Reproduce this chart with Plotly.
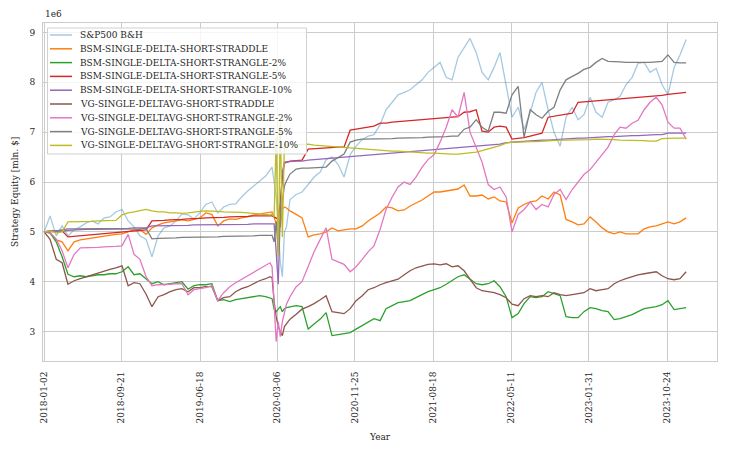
import plotly.graph_objects as go

# sample dates (in millions of $)
dates = [
    "2018-01-02", "2018-01-22", "2018-02-12", "2018-03-04", "2018-03-24", "2018-04-14", "2018-05-05", "2018-05-25", "2018-06-14", "2018-07-04",
    "2018-07-25", "2018-08-14", "2018-09-03", "2018-09-24", "2018-10-15", "2018-11-04", "2018-11-24", "2018-12-15", "2019-01-04", "2019-01-25",
    "2019-02-14", "2019-03-07", "2019-03-27", "2019-04-16", "2019-05-07", "2019-05-27", "2019-06-16", "2019-07-06", "2019-07-27", "2019-08-16",
    "2019-09-05", "2019-09-26", "2019-10-16", "2019-11-05", "2019-11-26", "2019-12-16", "2020-01-05", "2020-01-26", "2020-02-10", "2020-02-17",
    "2020-02-24", "2020-03-02", "2020-03-09", "2020-03-16", "2020-03-23", "2020-03-30", "2020-04-06", "2020-04-18", "2020-05-09", "2020-05-29",
    "2020-06-19", "2020-07-09", "2020-07-30", "2020-08-19", "2020-09-08", "2020-09-29", "2020-10-19", "2020-11-09", "2020-11-29", "2020-12-20",
    "2021-01-09", "2021-01-29", "2021-02-19", "2021-03-11", "2021-04-01", "2021-04-21", "2021-05-12", "2021-06-01", "2021-06-21", "2021-07-12",
    "2021-08-01", "2021-08-22", "2021-09-11", "2021-10-02", "2021-10-22", "2021-11-11", "2021-12-02", "2021-12-22", "2022-01-12", "2022-02-01",
    "2022-02-22", "2022-03-14", "2022-04-03", "2022-04-24", "2022-05-14", "2022-06-04", "2022-06-24", "2022-07-15", "2022-08-04", "2022-08-24",
    "2022-09-14", "2022-10-04", "2022-10-25", "2022-11-14", "2022-12-05", "2022-12-25", "2023-01-14", "2023-02-04", "2023-02-24", "2023-03-17",
    "2023-04-06", "2023-04-27", "2023-05-17", "2023-06-06", "2023-06-27", "2023-07-17", "2023-08-07", "2023-08-27", "2023-09-17", "2023-10-07",
    "2023-10-27", "2023-11-17", "2023-12-07", "2023-12-28",
]

sp500_bh = [
    5.00, 5.32, 4.92, 5.12, 4.92, 5.04, 5.10, 5.18, 5.22, 5.16,
    5.28, 5.30, 5.40, 5.45, 5.22, 5.10, 4.92, 4.85, 4.50, 4.92,
    5.08, 5.12, 5.22, 5.36, 5.34, 5.26, 5.38, 5.55, 5.60, 5.38,
    5.50, 5.55, 5.56, 5.70, 5.82, 5.92, 6.02, 6.12, 6.24, 6.30,
    6.00, 5.70, 5.10, 4.40, 4.10, 5.00, 5.10, 5.65, 5.75, 5.80,
    5.95, 6.10, 6.20, 6.45, 6.50, 6.35, 6.10, 6.55, 6.72, 6.85,
    6.92, 6.95, 7.15, 7.45, 7.60, 7.75, 7.80, 7.85, 7.95, 8.05,
    8.20, 8.30, 8.40, 8.10, 8.05, 8.50, 8.70, 8.88, 8.60, 8.20,
    8.05, 8.30, 8.60, 7.90, 7.30, 7.50, 7.05, 7.40, 7.80, 8.00,
    7.45, 7.00, 6.72, 7.30, 7.50, 7.25, 7.35, 7.70, 7.40, 7.30,
    7.60, 7.65, 7.72, 7.95, 8.10, 8.38, 8.40, 8.20, 8.28, 7.95,
    7.75, 8.30, 8.55, 8.86,
]
bsm_straddle = [
    5.00, 4.98, 4.84, 4.80, 4.62, 4.80, 4.84, 4.86, 4.88, 4.90,
    4.92, 4.93, 4.95, 4.96, 5.00, 5.04, 5.05, 4.95, 5.08, 5.14,
    5.18, 5.20, 5.22, 5.24, 5.22, 5.25, 5.28, 5.38, 5.35, 5.12,
    5.22, 5.26, 5.25, 5.28, 5.30, 5.34, 5.36, 5.38, 5.40, 5.40,
    5.30, 5.15, 5.30, 5.10, 5.45, 5.50, 5.48, 5.42, 5.35, 5.28,
    4.90, 4.94, 4.96, 5.00, 5.08, 5.02, 5.04, 5.06, 5.06, 5.12,
    5.22, 5.30, 5.38, 5.50, 5.48, 5.42, 5.44, 5.52, 5.58, 5.64,
    5.72, 5.80, 5.80, 5.82, 5.84, 5.86, 5.94, 5.72, 5.72, 5.74,
    5.66, 5.70, 5.62, 5.60, 5.18, 5.48, 5.55, 5.60, 5.62, 5.72,
    5.66, 5.80, 5.74, 5.25, 5.20, 5.14, 5.16, 5.30, 5.20, 5.08,
    5.00, 4.96, 5.00, 4.96, 4.96, 4.96, 5.06, 5.10, 5.12, 5.16,
    5.20, 5.16, 5.20, 5.28,
]
bsm_strangle_2 = [
    5.00, 4.98, 4.80, 4.50, 4.15, 4.10, 4.12, 4.10, 4.12, 4.14,
    4.14, 4.16, 4.16, 4.20, 4.30, 4.14, 4.16, 4.05, 3.96, 4.00,
    3.94, 3.96, 3.98, 4.00, 3.85, 3.92, 3.94, 3.94, 3.96, 3.62,
    3.64, 3.60, 3.64, 3.66, 3.68, 3.70, 3.72, 3.70, 3.68, 3.66,
    3.45, 3.40, 3.45, 3.50, 3.40, 3.46, 3.48, 3.50, 3.52, 3.50,
    3.05, 3.15, 3.25, 3.38, 2.92, 2.94, 2.96, 2.98, 3.05, 3.12,
    3.20, 3.26, 3.22, 3.46, 3.52, 3.58, 3.60, 3.62, 3.68, 3.74,
    3.80, 3.84, 3.88, 3.95, 4.02, 4.10, 4.14, 4.06, 3.96, 3.94,
    3.96, 4.02, 3.90, 3.70, 3.28, 3.36, 3.56, 3.70, 3.68, 3.70,
    3.80, 3.76, 3.72, 3.30, 3.28, 3.28, 3.40, 3.48, 3.46, 3.42,
    3.40, 3.24, 3.26, 3.30, 3.34, 3.40, 3.46, 3.48, 3.50, 3.54,
    3.62, 3.44, 3.46, 3.48,
]
bsm_strangle_5 = [
    5.00, 5.02, 5.02, 5.02, 4.90, 4.91, 4.92, 4.93, 4.94, 4.95,
    4.96, 4.97, 4.98, 4.99, 5.00, 5.01, 5.02, 5.04, 5.22, 5.22,
    5.23, 5.24, 5.24, 5.25, 5.26, 5.26, 5.27, 5.28, 5.28, 5.29,
    5.29, 5.30, 5.30, 5.31, 5.31, 5.32, 5.32, 5.32, 5.32, 5.32,
    5.30, 5.28, 5.25, 5.60, 6.10, 6.38, 6.40, 6.42, 6.43, 6.44,
    6.66, 6.67, 6.68, 6.68, 6.69, 6.70, 6.70, 7.04, 7.06, 7.08,
    7.10, 7.12, 7.18, 7.18, 7.20, 7.21, 7.22, 7.23, 7.24, 7.25,
    7.26, 7.27, 7.28, 7.29, 7.30, 7.31, 7.40, 7.41, 7.45, 7.02,
    7.00, 7.10, 7.12, 7.10, 6.86, 6.87, 6.89, 6.92, 6.95, 6.98,
    7.30, 7.32, 7.34, 7.36, 7.38, 7.60, 7.61, 7.62, 7.63, 7.64,
    7.65, 7.66, 7.66, 7.67, 7.68, 7.69, 7.70, 7.71, 7.72, 7.74,
    7.76, 7.77, 7.78, 7.80,
]
bsm_strangle_10 = [
    5.00, 5.02, 5.02, 5.04, 5.06, 5.06, 5.06, 5.06, 5.06, 5.07,
    5.07, 5.07, 5.07, 5.07, 5.07, 5.08, 5.08, 5.08, 5.12, 5.12,
    5.12, 5.13, 5.13, 5.13, 5.13, 5.14, 5.14, 5.14, 5.14, 5.14,
    5.15, 5.15, 5.15, 5.15, 5.15, 5.16, 5.16, 5.16, 5.16, 5.16,
    5.16, 4.60, 3.95, 5.40, 6.20, 6.40, 6.40, 6.41, 6.42, 6.42,
    6.44, 6.45, 6.46, 6.47, 6.48, 6.49, 6.50, 6.51, 6.52, 6.53,
    6.54, 6.55, 6.56, 6.57, 6.58, 6.59, 6.60, 6.61, 6.62, 6.63,
    6.64, 6.65, 6.66, 6.67, 6.68, 6.69, 6.70, 6.71, 6.72, 6.73,
    6.74, 6.75, 6.76, 6.79, 6.80, 6.81, 6.82, 6.82, 6.83, 6.84,
    6.84, 6.85, 6.86, 6.86, 6.87, 6.88, 6.88, 6.89, 6.90, 6.90,
    6.91, 6.91, 6.92, 6.92, 6.93, 6.93, 6.94, 6.94, 6.95, 6.95,
    6.98, 6.98, 6.98, 6.98,
]
vg_straddle = [
    5.00, 4.85, 4.45, 4.38, 3.95, 4.02, 4.06, 4.10, 4.14, 4.18,
    4.22, 4.25, 4.28, 4.32, 3.92, 3.98, 3.96, 3.75, 3.50, 3.70,
    3.74, 3.80, 3.84, 3.86, 3.80, 3.88, 3.88, 3.90, 3.90, 3.62,
    3.68, 3.70, 3.80, 3.86, 3.90, 3.96, 4.02, 4.06, 4.10, 4.08,
    3.60, 3.30, 3.10, 3.00, 2.92, 3.10, 3.15, 3.25, 3.35, 3.45,
    3.50, 3.56, 3.64, 3.72, 3.40, 3.38, 3.36, 3.46, 3.62, 3.72,
    3.84, 3.88, 3.94, 3.98, 4.02, 4.05, 4.14, 4.22, 4.28, 4.32,
    4.35, 4.36, 4.34, 4.36, 4.30, 4.32, 4.22, 4.05, 3.88, 3.82,
    3.80, 3.78, 3.74, 3.68, 3.55, 3.52, 3.66, 3.72, 3.70, 3.72,
    3.70, 3.78, 3.74, 3.72, 3.74, 3.76, 3.78, 3.86, 3.82, 3.84,
    3.86, 3.96, 4.02, 4.06, 4.10, 4.14, 4.16, 4.18, 4.20, 4.12,
    4.06, 4.04, 4.06, 4.20,
]
vg_strangle_2 = [
    5.00, 4.98, 4.86, 4.62, 4.28, 4.55, 4.68, 4.68, 4.68, 4.69,
    4.70, 4.70, 4.71, 4.72, 4.95, 4.55, 4.45, 4.10, 3.92, 3.94,
    3.94, 3.95, 3.96, 3.96, 3.74, 3.84, 3.86, 3.88, 3.92, 3.62,
    3.78, 3.90, 3.98, 4.05, 4.12, 4.18, 4.26, 4.34, 4.38, 4.30,
    3.60, 2.80, 3.20, 2.90, 3.20, 3.40, 3.55, 3.70, 3.90, 4.00,
    4.30, 4.60, 4.85, 5.08, 4.45, 4.40, 4.35, 4.20, 4.30, 4.45,
    4.60, 4.72, 5.05, 5.45, 5.70, 5.90, 6.00, 5.95, 6.10, 6.30,
    6.45, 6.55, 6.80, 7.10, 7.45, 7.30, 7.80, 7.00, 6.70, 6.40,
    5.95, 5.85, 5.90, 5.70, 5.00, 5.35, 5.45, 5.60, 5.45, 5.55,
    5.50, 5.75, 5.85, 5.65, 5.85, 6.00, 6.15, 6.25, 6.40, 6.55,
    6.70, 6.95, 7.10, 7.08, 7.18, 7.24, 7.45, 7.60, 7.70, 7.55,
    7.20, 7.08, 7.08, 6.86,
]
vg_strangle_5 = [
    5.00, 5.00, 5.00, 5.01, 5.03, 5.04, 5.04, 5.05, 5.05, 5.05,
    5.05, 5.06, 5.06, 5.06, 5.06, 5.06, 5.06, 5.07, 4.86, 4.87,
    4.87, 4.88, 4.88, 4.89, 4.89, 4.89, 4.90, 4.90, 4.90, 4.90,
    4.91, 4.91, 4.91, 4.92, 4.92, 4.92, 4.93, 4.93, 4.93, 4.93,
    4.80, 5.20, 4.60, 5.30, 5.60, 5.92, 6.02, 6.16, 6.26, 6.28,
    6.28, 6.29, 6.29, 6.30, 6.42, 6.50, 6.56, 6.80, 6.84, 6.86,
    6.86, 6.86, 6.87, 6.87, 6.87, 6.88, 6.88, 6.88, 6.89, 6.89,
    6.90, 6.90, 6.91, 6.91, 6.92, 6.92, 7.06, 7.10, 7.25, 7.10,
    7.02, 7.40, 7.40, 7.38, 7.75, 7.92, 6.90, 7.45, 7.35, 7.28,
    7.42, 7.50, 7.85, 8.05, 8.12, 8.18, 8.26, 8.30, 8.40, 8.48,
    8.42, 8.42, 8.41, 8.40, 8.40, 8.39, 8.39, 8.40, 8.41, 8.42,
    8.55, 8.40, 8.39, 8.39,
]
vg_strangle_10 = [
    5.00, 5.02, 4.98, 5.00, 5.20, 5.20, 5.21, 5.21, 5.21, 5.22,
    5.22, 5.22, 5.23, 5.34, 5.38, 5.40, 5.42, 5.45, 5.42, 5.40,
    5.40, 5.38, 5.38, 5.37, 5.38, 5.40, 5.41, 5.42, 5.42, 5.41,
    5.40, 5.40, 5.40, 5.39, 5.38, 5.37, 5.36, 5.35, 5.34, 5.36,
    5.30, 6.90, 4.50, 7.20, 4.90, 6.80, 6.74, 6.74, 6.75, 6.75,
    6.76, 6.74, 6.73, 6.72, 6.71, 6.70, 6.70, 6.69, 6.68, 6.67,
    6.66, 6.65, 6.64, 6.63, 6.62, 6.62, 6.61, 6.60, 6.60, 6.59,
    6.58, 6.58, 6.57, 6.57, 6.56, 6.56, 6.57, 6.58, 6.60, 6.63,
    6.66, 6.70, 6.73, 6.78, 6.80, 6.80, 6.81, 6.81, 6.81, 6.82,
    6.82, 6.83, 6.84, 6.84, 6.84, 6.85, 6.85, 6.85, 6.86, 6.86,
    6.85, 6.85, 6.84, 6.84, 6.83, 6.83, 6.83, 6.82, 6.82, 6.87,
    6.88, 6.88, 6.88, 6.88,
]

tick_dates = ["2018-01-02", "2018-09-21", "2019-06-18", "2020-03-06", "2020-11-25",
              "2021-08-18", "2022-05-11", "2023-01-31", "2023-10-24"]

series = [
    ("S&P500 B&H", sp500_bh, "rgba(31,119,180,0.4)"),
    ("BSM-SINGLE-DELTA-SHORT-STRADDLE", bsm_straddle, "#ff7f0e"),
    ("BSM-SINGLE-DELTA-SHORT-STRANGLE-2%", bsm_strangle_2, "#2ca02c"),
    ("BSM-SINGLE-DELTA-SHORT-STRANGLE-5%", bsm_strangle_5, "#d62728"),
    ("BSM-SINGLE-DELTA-SHORT-STRANGLE-10%", bsm_strangle_10, "#9467bd"),
    ("VG-SINGLE-DELTAVG-SHORT-STRADDLE", vg_straddle, "#8c564b"),
    ("VG-SINGLE-DELTAVG-SHORT-STRANGLE-2%", vg_strangle_2, "#e377c2"),
    ("VG-SINGLE-DELTAVG-SHORT-STRANGLE-5%", vg_strangle_5, "#7f7f7f"),
    ("VG-SINGLE-DELTAVG-SHORT-STRANGLE-10%", vg_strangle_10, "#bcbd22"),
]

FONT = "'DejaVu Serif', 'Liberation Serif', serif"
FS = 9
TXT = "#262626"
GRID = "#cccccc"

# the page body adds an 8px offset, so the figure is drawn 8px smaller on each side
# helpers below take page pixel positions (plot area on the page: x 43..717, y 23..361)
def px_x(p):
    return (p - 43) / 674

def px_y(p):
    return (361 - p) / 338

fig = go.Figure()

for name, vals, color in series:
    fig.add_trace(go.Scatter(
        x=dates,
        y=vals,
        mode='lines',
        line=dict(color=color, width=1.3),
        name=name,
        showlegend=False
    ))

# legend drawn by hand so the rows sit as tight as in the original
fig.add_shape(type="rect", xref="paper", yref="paper",
              x0=px_x(47.5), x1=px_x(306.5), y0=px_y(154), y1=px_y(28),
              fillcolor="rgba(255,255,255,0.8)", line=dict(color="#d0d0d0", width=1),
              layer="above")
for i, (name, vals, color) in enumerate(series):
    ypos = 35 + 13.8 * i
    fig.add_shape(type="line", xref="paper", yref="paper",
                  x0=px_x(50), x1=px_x(72), y0=px_y(ypos), y1=px_y(ypos),
                  line=dict(color=color, width=1.5), layer="above")
    fig.add_annotation(x=px_x(78), y=px_y(ypos), xref="paper", yref="paper",
                       text=name, showarrow=False, xanchor="left", yanchor="middle",
                       font=dict(family=FONT, size=FS, color=TXT))

# axis titles and offset text
fig.add_annotation(x=0.5, y=px_y(437), xref="paper", yref="paper", text="Year",
                   showarrow=False, xanchor="center", yanchor="middle",
                   font=dict(family=FONT, size=FS, color=TXT))
fig.add_annotation(x=px_x(15), y=px_y(192), xref="paper", yref="paper",
                   text="Strategy Equity [mln. $]", textangle=-90, showarrow=False,
                   xanchor="center", yanchor="middle",
                   font=dict(family=FONT, size=FS, color=TXT))
fig.add_annotation(x=0, y=px_y(14), xref="paper", yref="paper", text="1e6",
                   showarrow=False, xanchor="left", yanchor="middle",
                   font=dict(family=FONT, size=FS, color=TXT))

fig.update_layout(
    width=714,
    height=437,
    margin=dict(l=35, r=5, t=15, b=84),
    plot_bgcolor='white',
    paper_bgcolor='white',
    font=dict(family=FONT, size=FS, color=TXT),
    xaxis=dict(
        type='date',
        range=['2017-12-29', '2024-04-11'],
        tickvals=tick_dates,
        ticktext=tick_dates,
        tickangle=-90,
        showgrid=True, gridcolor=GRID, gridwidth=1,
        showline=True, linecolor=GRID, linewidth=1, mirror=True,
        zeroline=False, ticks='', ticklabelstandoff=6,
        tickfont=dict(family=FONT, size=FS, color=TXT)
    ),
    yaxis=dict(
        range=[2.41, 9.19],
        tickvals=[3, 4, 5, 6, 7, 8, 9],
        showgrid=True, gridcolor=GRID, gridwidth=1,
        showline=True, linecolor=GRID, linewidth=1, mirror=True,
        zeroline=False, ticks='', ticklabelstandoff=5,
        tickfont=dict(family=FONT, size=FS, color=TXT)
    ),
)

fig.write_html("out.html")
